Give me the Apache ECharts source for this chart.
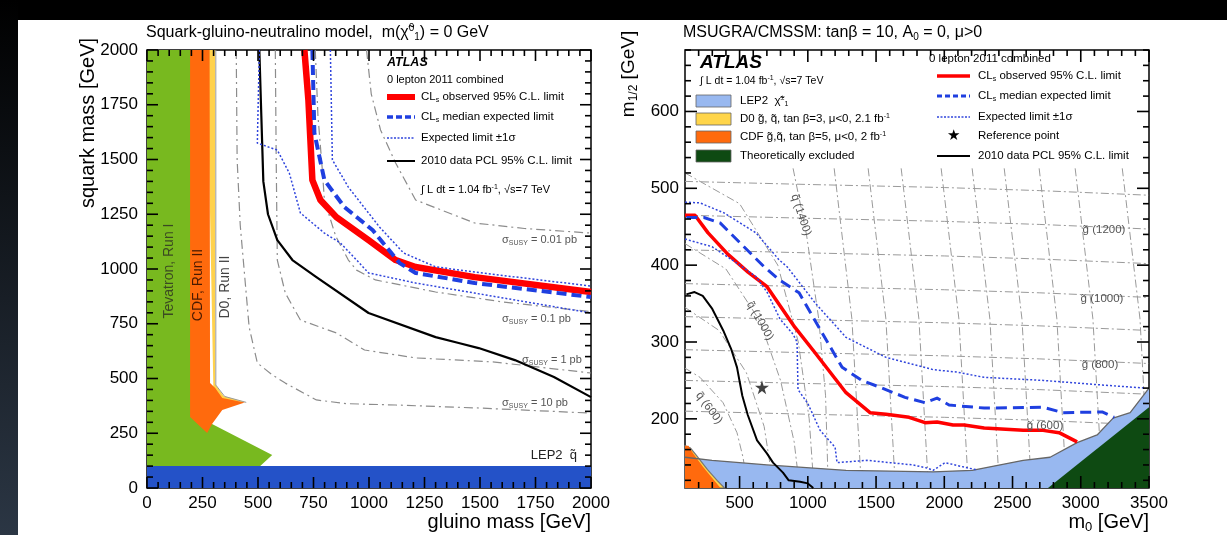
<!DOCTYPE html>
<html>
<head>
<meta charset="utf-8">
<title>ATLAS 0 lepton 2011</title>
<script src="https://cdn.jsdelivr.net/npm/echarts@6.0.0/dist/echarts.min.js"></script>
<style>
html,body{margin:0;padding:0;background:#000;}
#main{width:1227px;height:535px;}
</style>
</head>
<body>
<div id="main"></div>
<script>
var FONT = '"Liberation Sans", Arial, Helvetica, sans-serif';

// ===== left plot: x = gluino mass, y = squark mass (GeV) =====
var massMajor = [0,250,500,750,1000,1250,1500,1750,2000];
var massMinor = [50,100,150,200,300,350,400,450,550,600,650,700,800,850,900,950,1050,1100,1150,1200,1300,1350,1400,1450,1550,1600,1650,1700,1800,1850,1900,1950];

var lepSquark = [[0,0],[2000,0],[2000,100],[0,100]];
var tevatronRunI = [[0,100],[0,2000],[200,2000],[200,330],[293,292],[564,151],[510,100]];
var d0RunII = [[270,2000],[307,2000],[307,475],[345,420],[445,392],[300,400]];
var d0Edge = [[310,2000],[310,470],[350,418],[447,391]];
var cdfRunII = [[194,2000],[282,2000],[284,479],[307,457],[339,411],[440,390],[339,356],[293,292],[271,251],[194,324]];

// cross section contours
var sigma001 = [[989,2000],[1010,1800],[1052,1635],[1120,1484],[1210,1315],[1476,1210],[1700,1185],[2000,1164]];
var sigma01 = [[758,2000],[770,1700],[790,1450],[799,1315],[850,1150],[907,1041],[944,995],[1029,950],[1300,895],[1600,850],[2000,805]];
var sigma1 = [[578,2000],[582,1500],[587,1041],[623,890],[691,767],[853,708],[980,630],[1210,594],[1567,575],[2000,525]];
var sigma10 = [[402,2000],[406,1500],[420,1200],[460,735],[497,571],[560,520],[623,479],[763,402],[900,385],[1120,379],[1500,365],[2000,342]];

// limits
var obsLeft = [[709,2000],[727,1772],[745,1406],[781,1315],[853,1237],[998,1132],[1120,1041],[1210,1009],[1476,963],[2000,895]];
var expLeft = [[745,2000],[754,1621],[799,1406],[889,1283],[1016,1178],[1138,1027],[1210,982],[1476,936],[2000,872]];
var expUpLeft = [[826,2000],[835,1498],[907,1374],[1047,1192],[1156,1073],[1300,1010],[1476,986],[2000,922]];
var expDownLeft = [[506,2000],[497,1575],[587,1543],[641,1438],[691,1256],[799,1164],[871,1119],[944,1041],[998,982],[1210,936],[1476,890],[2000,799]];
var pclLeft = [[506,2000],[515,1700],[524,1400],[545,1250],[587,1132],[655,1041],[763,963],[998,799],[1300,689],[1404,662],[1494,639],[1657,584],[1833,507],[2000,415]];

// ===== right plot: x = m0, y = m1/2 (GeV) =====
var m0Labels = [500,1000,1500,2000,2500,3000,3500];
var m0Minor = [200,300,400,600,700,800,900,1100,1200,1300,1400,1600,1700,1800,1900,2100,2200,2300,2400,2600,2700,2800,2900,3100,3200,3300,3400];
var m12Labels = [200,300,400,500,600];
var m12Minor = [120,140,160,180,220,240,260,280,320,340,360,380,420,440,460,480,520,540,560,580,620,640,660,680];

var lepBoundary = [[100,150],[298,146],[700,140],[1280,133],[1918,131],[2204,133],[2578,146],[2775,150],[2973,169],[3120,179],[3237,201],[3362,208],[3500,240]];
var theoExcluded = [[2760,110],[3500,215],[3500,110]];
var d0Right = [[100,110],[100,165],[140,162],[185,152],[265,134],[335,120],[390,110]];
var cdfRight = [[100,110],[100,165],[125,165],[160,155],[230,138],[290,125],[360,110]];

// gluino / squark iso-mass lines
var gluino600 = [[100,210],[1000,206],[2000,202],[2700,198],[3500,192]];
var gluino700 = [[100,250],[1000,246],[2000,242],[2700,238],[3500,232]];
var gluino800 = [[100,290],[1000,286],[2000,282],[2700,278],[3500,272]];
var gluino900 = [[100,333],[1000,329],[2000,325],[2700,321],[3500,315]];
var gluino1000 = [[100,376],[1000,372],[2000,368],[2700,364],[3500,358]];
var gluino1100 = [[100,420],[1000,416],[2000,412],[2700,408],[3500,402]];
var gluino1200 = [[100,465],[1000,461],[2000,457],[2700,453],[3500,447]];
var gluino1300 = [[100,509],[1000,505],[2000,501],[2700,497],[3500,491]];
var squark600 = [[100,266],[210,254],[379,221],[481,182],[525,150],[562,110]];
var squark800 = [[100,345],[350,315],[550,260],[680,190],[750,110]];
var squark1000 = [[100,428],[400,395],[650,327],[800,250],[900,170],[940,110]];
var squark1200 = [[100,520],[500,480],[780,400],[930,300],[1010,200],[1045,110]];
var squark1400 = [[892,526],[990,440],[1080,330],[1130,230],[1150,110]];
var squark1600 = [[1193,526],[1323,330],[1393,110]];
var squark1800 = [[1442,526],[1572,330],[1642,110]];
var squark2000 = [[1684,526],[1814,330],[1884,110]];
var squark2200 = [[1977,526],[2107,330],[2177,110]];
var squark2400 = [[2204,526],[2334,330],[2404,110]];
var squark2600 = [[2439,526],[2569,330],[2639,110]];
var squark2800 = [[2695,526],[2825,330],[2895,110]];
var squark3000 = [[2959,526],[3089,330],[3159,110]];
var squark3200 = [[3304,526],[3434,330],[3500,110]];

// limits
var obsRight = [[100,465],[173,465],[269,442],[415,414],[562,391],[701,372],[906,319],[1053,286],[1280,234],[1456,208],[1573,206],[1742,202],[1859,195],[1947,196],[2064,192],[2145,192],[2292,188],[2578,185],[2724,185],[2841,182],[2973,170]];
var expRight = [[110,462],[239,462],[357,455],[503,429],[679,398],[789,381],[936,364],[1082,319],[1251,267],[1397,250],[1544,240],[1712,228],[1859,221],[1947,227],[2035,218],[2292,214],[2724,215],[2871,208],[3157,209],[3245,202]];
var expUpRight = [[100,482],[210,481],[386,468],[620,442],[789,407],[848,398],[1053,351],[1280,306],[1573,280],[1918,264],[2086,261],[2292,254],[2724,250],[3157,244],[3472,240]];
var expDownRight = [[100,434],[298,424],[503,400],[620,385],[701,365],[796,330],[892,310],[921,300],[928,238],[1000,220],[1090,185],[1200,163],[1214,143],[1434,146],[1603,143],[1771,140],[1874,136],[1918,133],[2006,143],[2174,136],[2230,134]];
var pclRight = [[110,362],[170,365],[230,360],[300,343],[380,315],[440,290],[481,267],[520,230],[560,205],[628,172],[700,155],[745,143],[818,130],[860,120],[943,118],[1000,116],[1040,110]];
var refPoint = [[664,241]];

//星形
var STAR = 'path://M50,0 L61,35 L98,35 L68,57 L79,91 L50,70 L21,91 L32,57 L2,35 L39,35 Z';

// grid boxes (pixels) and axis ranges
var GRIDS = [
    {left: 147, top: 50, width: 444, height: 438, xr: [0, 2000], yr: [0, 2000]},
    {left: 685, top: 50, width: 464, height: 438, xr: [100, 3500], yr: [110, 680]}
];

function rich(size) {
    return {
        sub: {fontSize: Math.round(size * 0.65), fontFamily: FONT, padding: [Math.round(size * 0.55), 0, 0, 0], verticalAlign: 'middle'},
        sup: {fontSize: Math.round(size * 0.65), fontFamily: FONT, padding: [0, 0, Math.round(size * 0.55), 0], verticalAlign: 'middle'}
    };
}
function txt(x, y, s, size, o) {
    o = o || {};
    return {
        type: 'text', x: x, y: y, z: 40, rotation: o.rot || 0, silent: true,
        style: {
            text: s, fontSize: size, fontFamily: FONT, fill: o.fill || '#000',
            fontWeight: o.bold ? 'bold' : 'normal', fontStyle: o.italic ? 'italic' : 'normal',
            align: o.align || 'left', verticalAlign: 'middle', rich: rich(size)
        }
    };
}
function seg(x1, y1, x2, y2, color, w, dash) {
    var st = {stroke: color, lineWidth: w};
    if (dash) st.lineDash = dash;
    return {type: 'line', z: 40, silent: true, shape: {x1: x1, y1: y1, x2: x2, y2: y2}, style: st};
}
function bar(x, y, w, h) {
    return {type: 'rect', z: 41, silent: true, shape: {x: x, y: y, width: w, height: h}, style: {fill: '#000'}};
}
function box(x, y, color) {
    return {type: 'rect', z: 40, silent: true, shape: {x: x, y: y - 6, width: 35, height: 12},
        style: {fill: color, stroke: '#666', lineWidth: 0.8}};
}

function polySeries(xi, yi, pts, fill, stroke, z) {
    return {
        type: 'custom', xAxisIndex: xi, yAxisIndex: yi, z: z, silent: true,
        data: [pts[0]],
        renderItem: function (params, api) {
            var p = [];
            for (var i = 0; i < pts.length; i++) p.push(api.coord(pts[i]));
            return {type: 'polygon', shape: {points: p},
                style: {fill: fill, stroke: stroke || null, lineWidth: 1.2}};
        }
    };
}
function lineSeries(xi, yi, pts, color, w, dash, z) {
    return {
        type: 'line', xAxisIndex: xi, yAxisIndex: yi, data: pts, z: z, silent: true,
        symbol: 'none', smooth: false,
        lineStyle: {color: color, width: w, type: dash || 'solid', cap: 'butt', join: 'round'}
    };
}

// value -> pixel inside one grid box (same linear map as the value axes)
function toPx(gi, pt) {
    var g = GRIDS[gi];
    return [g.left + (pt[0] - g.xr[0]) / (g.xr[1] - g.xr[0]) * g.width,
            g.top + g.height - (pt[1] - g.yr[0]) / (g.yr[1] - g.yr[0]) * g.height];
}
// inward frame ticks as thin filled bars
function pushTicks(g, gi, xMajor, xMinor, yMajor, yMinor, big) {
    var xr = GRIDS[gi].xr, yr = GRIDS[gi].yr, t = 1.6;
    function add(list, len, isX) {
        for (var i = 0; i < list.length; i++) {
            var v = list[i], a, b;
            if (isX) {
                a = toPx(gi, [v, yr[0]]);
                b = toPx(gi, [v, yr[1]]);
                g.push(bar(a[0] - t / 2, a[1] - len, t, len));
                g.push(bar(b[0] - t / 2, b[1], t, len));
            } else {
                a = toPx(gi, [xr[0], v]);
                b = toPx(gi, [xr[1], v]);
                g.push(bar(a[0], a[1] - t / 2, len, t));
                g.push(bar(b[0] - len, b[1] - t / 2, len, t));
            }
        }
    }
    add(xMajor, big, true);
    add(xMinor, 6, true);
    add(yMajor, big, false);
    add(yMinor, 6, false);
}

function plainAxis(gi, pos, labels, interval) {
    var isX = (pos == 'bottom');
    var r = isX ? GRIDS[gi].xr : GRIDS[gi].yr;
    var a = {
        type: 'value', gridIndex: gi, position: pos, min: r[0], max: r[1],
        axisLine: {show: false},
        axisTick: {show: false},
        splitLine: {show: false},
        axisLabel: {
            show: true, color: '#000', fontSize: 17, fontFamily: FONT,
            margin: isX ? 7 : (gi == 0 ? 9 : 6),
            formatter: function (v) { return String(v); }
        }
    };
    if (interval) a.interval = interval;
    if (labels) a.axisLabel.customValues = labels;
    return a;
}

var main = {
    init: function () {
        var myChart = echarts.init(document.getElementById('main'), null, {renderer: 'canvas'});
        var grids = [];
        for (var i = 0; i < GRIDS.length; i++) {
            grids.push({left: GRIDS[i].left, top: GRIDS[i].top, width: GRIDS[i].width, height: GRIDS[i].height,
                show: true, borderColor: '#000', borderWidth: 1.5, backgroundColor: 'transparent', outerBoundsMode: 'none'});
        }
        var ticks = [];
        pushTicks(ticks, 0, massMajor, massMinor, massMajor, massMinor, 11);
        pushTicks(ticks, 1, m0Labels, m0Minor, m12Labels, m12Minor, 12);
        var option = {
            animation: false,
            backgroundColor: 'transparent',
            grid: grids,
            xAxis: [plainAxis(0, 'bottom', null, 250), plainAxis(1, 'bottom', m0Labels)],
            yAxis: [plainAxis(0, 'left', null, 250), plainAxis(1, 'left', m12Labels)],
            series: this.leftSeries().concat(this.rightSeries()),
            graphic: {elements: this.decor().concat(ticks)}
        };
        myChart.setOption(option);
    },
    leftSeries: function () {
        var grey = '#8c8c8c', dd = [9, 4, 2, 4];
        return [
            lineSeries(0, 0, sigma001, grey, 1.2, dd, 2),
            lineSeries(0, 0, sigma01, grey, 1.2, dd, 2),
            lineSeries(0, 0, sigma1, grey, 1.2, dd, 2),
            lineSeries(0, 0, sigma10, grey, 1.2, dd, 2),
            polySeries(0, 0, tevatronRunI, '#78b91f', null, 3),
            polySeries(0, 0, d0RunII, '#ffd24d', null, 3),
            polySeries(0, 0, cdfRunII, '#ff6a0d', null, 3),
            lineSeries(0, 0, d0Edge, '#9a9a9a', 1, null, 3),
            polySeries(0, 0, lepSquark, '#2452c8', null, 3),
            lineSeries(0, 0, pclLeft, '#000', 2.2, null, 4),
            lineSeries(0, 0, obsLeft, '#ff0000', 6.5, null, 5),
            lineSeries(0, 0, expLeft, '#1f3fe0', 4, [10, 5], 6),
            lineSeries(0, 0, expUpLeft, '#3045dc', 1.5, [2, 2], 7),
            lineSeries(0, 0, expDownLeft, '#3045dc', 1.5, [2, 2], 7)
        ];
    },
    rightSeries: function () {
        var s = [], grey = '#9a9a9a', dd = [8, 3, 2, 3];
        var gl = [gluino600, gluino700, gluino800, gluino900, gluino1000, gluino1100, gluino1200, gluino1300];
        var sq = [squark600, squark800, squark1000, squark1200, squark1400, squark1600, squark1800, squark2000,
            squark2200, squark2400, squark2600, squark2800, squark3000, squark3200];
        for (var i = 0; i < gl.length; i++) s.push(lineSeries(1, 1, gl[i], grey, 1, dd, 1));
        for (var j = 0; j < sq.length; j++) s.push(lineSeries(1, 1, sq[j], grey, 1, dd, 1));
        s.push(polySeries(1, 1, lepBoundary.concat([[3500, 110], [100, 110]]), '#98b8f0', null, 3));
        s.push(lineSeries(1, 1, lepBoundary, '#666', 1.3, null, 3));
        s.push(polySeries(1, 1, theoExcluded, '#0e4a12', null, 3));
        s.push(polySeries(1, 1, d0Right, '#ffd54a', '#777', 3));
        s.push(polySeries(1, 1, cdfRight, '#ff6a0d', null, 3));
        s.push(lineSeries(1, 1, pclRight, '#000', 2, null, 4));
        s.push(lineSeries(1, 1, obsRight, '#ff0000', 3.5, null, 5));
        s.push(lineSeries(1, 1, expRight, '#1f3fe0', 3, [11, 6], 6));
        s.push(lineSeries(1, 1, expUpRight, '#3045dc', 1.5, [2, 2], 7));
        s.push(lineSeries(1, 1, expDownRight, '#3045dc', 1.5, [2, 2], 7));
        s.push({type: 'scatter', xAxisIndex: 1, yAxisIndex: 1, data: refPoint, z: 8, silent: true,
            symbol: STAR, symbolSize: 14, itemStyle: {color: '#111'}});
        return s;
    },
    decor: function () {
        var g = [];
        //背景
        g.push({type: 'rect', z: -10, silent: true, shape: {x: 18, y: 20, width: 1209, height: 515}, style: {fill: '#fff'}});
        g.push({type: 'rect', z: -10, silent: true, shape: {x: 0, y: 0, width: 18, height: 535},
            style: {fill: new echarts.graphic.LinearGradient(0, 0, 0, 1, [{offset: 0, color: '#000'}, {offset: 1, color: '#2b3644'}])}});

        // titles and axis names
        g.push(txt(146, 33, 'Squark-gluino-neutralino model,  m(\u03c7\u0303{sup|0}{sub|1}) = 0 GeV', 16));
        g.push(txt(683, 33, 'MSUGRA/CMSSM: tan\u03b2 = 10, A{sub|0} = 0, \u03bc>0', 16));
        g.push(txt(88, 123, 'squark mass [GeV]', 20, {rot: Math.PI / 2, align: 'center'}));
        g.push(txt(591, 522, 'gluino mass [GeV]', 20, {align: 'right'}));
        g.push(txt(629, 74, 'm{sub|1/2} [GeV]', 19, {rot: Math.PI / 2, align: 'center'}));
        g.push(txt(1149, 522, 'm{sub|0} [GeV]', 20, {align: 'right'}));

        // left plot labels
        g.push(txt(169, 271, 'Tevatron, Run I', 14, {rot: Math.PI / 2, align: 'center', fill: '#3b4a22'}));
        g.push(txt(198, 285, 'CDF, Run II', 14, {rot: Math.PI / 2, align: 'center', fill: '#4a1a00'}));
        g.push(txt(225, 287, 'D0, Run II', 14, {rot: Math.PI / 2, align: 'center', fill: '#444'}));
        g.push(txt(502, 240, '\u03c3{sub|SUSY} = 0.01 pb', 11, {fill: '#555'}));
        g.push(txt(502, 319, '\u03c3{sub|SUSY} = 0.1 pb', 11, {fill: '#555'}));
        g.push(txt(522, 360, '\u03c3{sub|SUSY} = 1 pb', 11, {fill: '#555'}));
        g.push(txt(502, 403, '\u03c3{sub|SUSY} = 10 pb', 11, {fill: '#555'}));
        g.push(txt(577, 455, 'LEP2  q\u0303', 13, {align: 'right', fill: '#222'}));

        // left legend
        g.push(txt(387, 63, 'ATLAS', 12.5, {bold: true, italic: true}));
        g.push(txt(387, 80, '0 lepton 2011 combined', 11));
        g.push(seg(387, 97, 415, 97, '#ff0000', 6));
        g.push(seg(387, 117, 415, 117, '#1f3fe0', 3.5, [6, 3]));
        g.push(seg(387, 138, 415, 138, '#3045dc', 1.5, [2, 1.5]));
        g.push(seg(387, 161, 415, 161, '#000', 2));
        g.push(txt(421, 97, 'CL{sub|s} observed 95% C.L. limit', 11.5));
        g.push(txt(421, 117, 'CL{sub|s} median expected limit', 11.5));
        g.push(txt(421, 138, 'Expected limit \u00b11\u03c3', 11.5));
        g.push(txt(421, 161, '2010 data PCL 95% C.L. limit', 11.5));
        g.push(txt(421, 190, '\u222b L dt = 1.04 fb{sup|-1}, \u221As=7 TeV', 11));

        // right plot labels
        g.push(txt(1104, 230, 'g\u0303 (1200)', 11.5, {align: 'center', fill: '#555'}));
        g.push(txt(1102, 299, 'g\u0303 (1000)', 11.5, {align: 'center', fill: '#555'}));
        g.push(txt(1100, 365, 'g\u0303 (800)', 11.5, {align: 'center', fill: '#555'}));
        g.push(txt(1045, 426, 'g\u0303 (600)', 11.5, {align: 'center', fill: '#555'}));
        g.push(txt(801, 215, 'q\u0303 (1400)', 11.5, {align: 'center', fill: '#555', rot: -72 * Math.PI / 180}));
        g.push(txt(760, 321, 'q\u0303 (1000)', 11.5, {align: 'center', fill: '#555', rot: -60 * Math.PI / 180}));
        g.push(txt(709, 408, 'q\u0303 (600)', 11.5, {align: 'center', fill: '#555', rot: -53 * Math.PI / 180}));

        // right legend
        g.push(txt(700, 63, 'ATLAS', 19, {bold: true, italic: true}));
        g.push(txt(700, 81, '\u222b L dt = 1.04 fb{sup|-1}, \u221As=7 TeV', 10.5));
        g.push(box(696, 101, '#98b8f0'));
        g.push(box(696, 119, '#ffd54a'));
        g.push(box(696, 137, '#ff6a0d'));
        g.push(box(696, 156, '#0e4a12'));
        g.push(txt(740, 101, 'LEP2  \u03c7\u0303{sup|\u00b1}{sub|1}', 11.5));
        g.push(txt(740, 119, 'D0 g\u0303, q\u0303, tan \u03b2=3, \u03bc<0, 2.1 fb{sup|-1}', 11.5));
        g.push(txt(740, 137, 'CDF g\u0303,q\u0303, tan \u03b2=5, \u03bc<0, 2 fb{sup|-1}', 11.5));
        g.push(txt(740, 156, 'Theoretically excluded', 11.5));
        g.push(txt(929, 59, '0 lepton 2011 combined', 11.5));
        g.push(seg(937, 76, 970, 76, '#ff0000', 3.5));
        g.push(seg(937, 96, 970, 96, '#1f3fe0', 3, [5, 3]));
        g.push(seg(937, 117, 970, 117, '#3045dc', 1.5, [2, 1.5]));
        g.push(txt(953, 136, '\u2605', 15, {align: 'center'}));
        g.push(seg(937, 156, 970, 156, '#000', 2));
        g.push(txt(978, 76, 'CL{sub|s} observed 95% C.L. limit', 11.5));
        g.push(txt(978, 96, 'CL{sub|s} median expected limit', 11.5));
        g.push(txt(978, 117, 'Expected limit \u00b11\u03c3', 11.5));
        g.push(txt(978, 136, 'Reference point', 11.5));
        g.push(txt(978, 156, '2010 data PCL 95% C.L. limit', 11.5));
        return g;
    }
};
main.init();
</script>
</body>
</html>
